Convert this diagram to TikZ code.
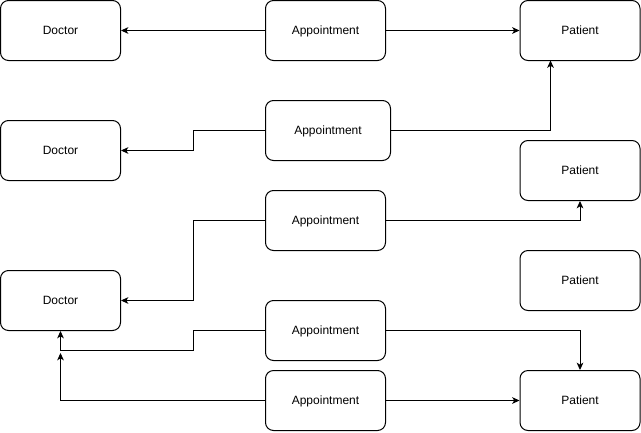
\documentclass[tikz,border=0pt]{standalone}
\usepackage{fontspec}
\setmainfont{Liberation Sans}
\usetikzlibrary{arrows.meta}
\begin{document}
\begin{tikzpicture}[x=0.75pt,y=-0.75pt,
  box/.style={draw=black,line width=0.75pt,rounded corners=6pt,minimum width=90pt,minimum height=45pt,inner sep=0pt,text height=7pt,text depth=0.5pt,font=\fontsize{9}{11}\selectfont,fill=white},
  conn/.style={draw=black,line width=0.75pt,-{Stealth[length=5.5pt,width=5pt,inset=1.5pt]}}]
\useasboundingbox (0,0) rectangle (641,432);
\node[box] (D1) at (60.5,30.5) {Doctor};
\node[box] (A1) at (325.5,30.5) {Appointment};
\node[box] (P1) at (580,30.5) {Patient};
\node[box] (D2) at (60.5,150.5) {Doctor};
\node[box,minimum width=93.75pt] (A2) at (328,130.5) {Appointment};
\node[box] (P2) at (580,170.5) {Patient};
\node[box] (A3) at (325.5,220.5) {Appointment};
\node[box] (P3) at (580,280.5) {Patient};
\node[box] (D3) at (60.5,300.5) {Doctor};
\node[box] (A4) at (325.5,330.5) {Appointment};
\node[box] (A5) at (325.5,400.5) {Appointment};
\node[box] (P4) at (580,400.5) {Patient};
\coordinate (b) at (193,0);
\coordinate (p1a) at (550.5,60.5);
\coordinate (j) at (60.5,350.5);
\coordinate (j2) at (60.5,353);
\draw[conn] (A1.west) -- (D1.east);
\draw[conn] (A1.east) -- (P1.west);
\draw[conn] (A2.west) -- (A2.west -| b) |- (D2.east);
\draw[conn] (A2.east) -| (p1a);
\draw[conn] (A3.west) -- (A3.west -| b) |- (D3.east);
\draw[conn] (A3.east) -| (P2.south);
\draw[conn] (A4.west) -- (A4.west -| b) |- (j) -- (D3.south);
\draw[conn] (A4.east) -| (P4.north);
\draw[conn] (A5.west) -| (j2);
\draw[conn] (A5.east) -- (P4.west);
\end{tikzpicture}
\end{document}
